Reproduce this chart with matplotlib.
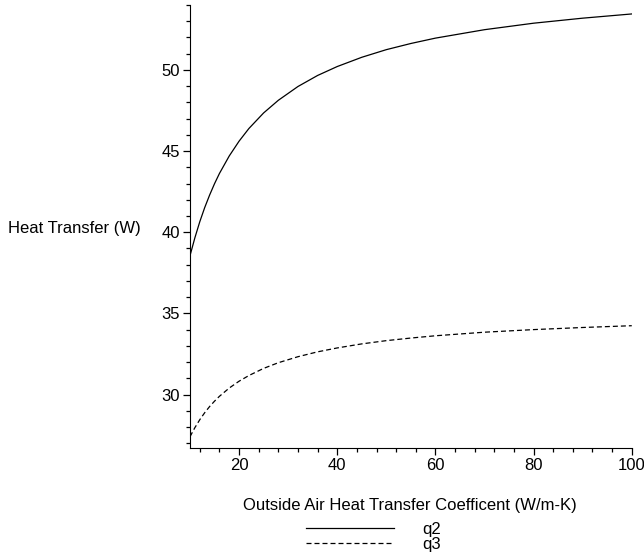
import numpy as np
import matplotlib.pyplot as plt
from matplotlib.ticker import MultipleLocator
from matplotlib.lines import Line2D

# outside air heat transfer coefficient (W/m-K)
h = [10, 11, 12, 13, 14, 15, 16, 18, 20, 22, 25, 28, 32, 36, 40,
     45, 50, 55, 60, 70, 80, 90, 100]
# heat transfer (W)
q2 = [38.55, 39.66, 40.65, 41.52, 42.29, 42.99, 43.62, 44.70, 45.61, 46.39,
      47.35, 48.13, 48.98, 49.66, 50.21, 50.78, 51.25, 51.63, 51.96, 52.48,
      52.88, 53.19, 53.45]
q3 = [27.40, 27.96, 28.45, 28.88, 29.26, 29.59, 29.89, 30.40, 30.82, 31.17,
      31.61, 31.96, 32.33, 32.63, 32.87, 33.12, 33.32, 33.48, 33.62, 33.84,
      34.00, 34.13, 34.24]

plt.rcParams['font.family'] = ['Liberation Sans', 'DejaVu Sans']

fig = plt.figure(figsize=(6.44, 5.58), dpi=100)
ax = fig.add_axes([0.295, 0.197, 0.686, 0.794])

ax.plot(h, q2, color='black', lw=0.9)
ax.plot(h, q3, color='black', lw=0.9, dashes=(4, 2.4))

ax.set_xlim(10, 100)
ax.set_ylim(26.7, 54.0)
ax.spines['top'].set_visible(False)
ax.spines['right'].set_visible(False)
ax.xaxis.set_major_locator(MultipleLocator(20))
ax.xaxis.set_minor_locator(MultipleLocator(4))
ax.yaxis.set_major_locator(MultipleLocator(5))
ax.yaxis.set_minor_locator(MultipleLocator(1))
ax.tick_params(which='major', length=5, width=0.9, labelsize=12, pad=2)
ax.tick_params(which='minor', length=3, width=0.9)

fig.text(0.013, 0.59, 'Heat Transfer (W)', fontsize=12, va='center', ha='left')
fig.text(0.637, 0.094, 'Outside Air Heat Transfer Coefficent (W/m-K)',
         fontsize=12, ha='center', va='center')

handles = [Line2D([], [], color='black', lw=0.9),
           Line2D([], [], color='black', lw=0.9, dashes=(4, 2.4))]
fig.legend(handles, ['q2', 'q3'], loc='center', bbox_to_anchor=(0.58, 0.038),
           frameon=False, fontsize=12, handlelength=5.3, handletextpad=1.7,
           labelspacing=0.0, borderpad=0)

fig.savefig('out.png', dpi=100)
